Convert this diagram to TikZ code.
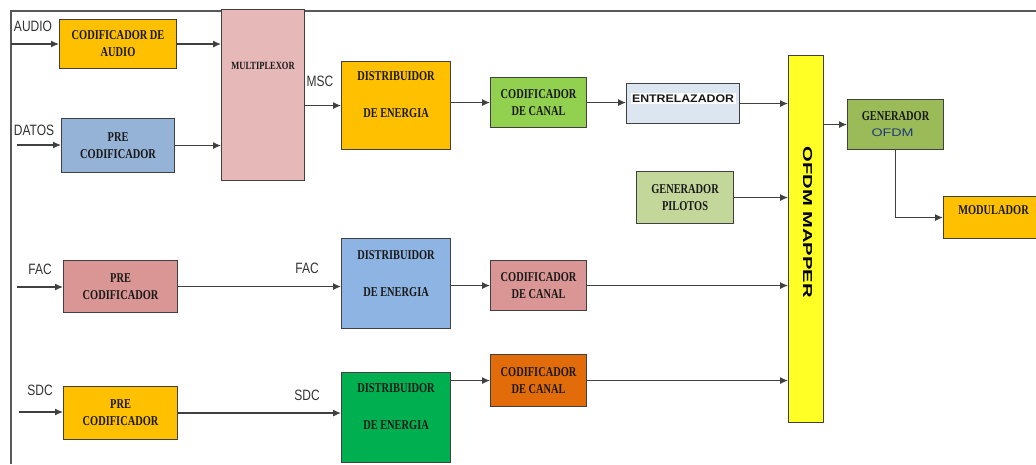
\documentclass[tikz,border=0pt]{standalone}
\usepackage{fontspec}
\usetikzlibrary{arrows.meta,calc}
\newfontfamily\serifc[FakeStretch=0.77]{Liberation Serif}
\newcommand\boxtxt{\serifc\bfseries\fontsize{13.5}{17}\selectfont}
\newcommand\muxtxt{\serifc\bfseries\fontsize{11}{13}\selectfont}
\newfontfamily\labsans[FakeStretch=0.8]{Liberation Sans}
\newcommand\labtxt{\labsans\fontsize{15}{17}\selectfont}
\newfontfamily\mapfont[FakeStretch=1.55]{Liberation Sans}
\newfontfamily\entfont[FakeStretch=1.12]{Liberation Sans}
\newfontfamily\ofdmfont[FakeStretch=1.3]{Liberation Sans}
\definecolor{cOr}{HTML}{FFC000}
\definecolor{cMux}{HTML}{E6B8B7}
\definecolor{cBl}{HTML}{95B3D7}
\definecolor{cGr}{HTML}{92D050}
\definecolor{cEnt}{HTML}{DCE6F1}
\definecolor{cYel}{HTML}{FFFF26}
\definecolor{cOlv}{HTML}{9BBB59}
\definecolor{cPil}{HTML}{C4D79B}
\definecolor{cPk}{HTML}{DA9694}
\definecolor{cBlb}{HTML}{8DB4E2}
\definecolor{cGrb}{HTML}{00B050}
\definecolor{cOrb}{HTML}{E26B0A}
\definecolor{lineC}{HTML}{404040}
\definecolor{ofdmblue}{HTML}{1F3A7A}
\begin{document}
\begin{tikzpicture}[x=1pt,y=-1pt,
  blk/.style={draw=lineC, line width=1.1pt, inner sep=0pt, anchor=north west,
              font=\boxtxt, align=center, text=black!90},
  txtn/.style={inner sep=0pt, font=\boxtxt, align=center, text=black!90},
  arr/.style={draw=lineC, line width=1.2pt, -{Latex[length=8pt,width=7pt]}},
  lbl/.style={font=\labtxt, text=black!80, inner sep=0pt},
  frame/.style={draw=black!65, line width=1.8pt}]
\useasboundingbox (0,0) rectangle (1036,464);
\begin{scope}
\clip (0,0) rectangle (1036,464);
\fill[white] (0,0) rectangle (1036,464);
% frame
\draw[frame] (1036,11) -- (11,11) -- (11,464);

% boxes
\node[blk, fill=cOr, minimum width=117pt, minimum height=49pt] (ca) at (59,19) {CODIFICADOR DE\\AUDIO};
\node[blk, fill=cMux, minimum width=83pt, minimum height=171pt] (mux) at (221,9) {};
\node[txtn, font=\muxtxt] (muxt) at ($(mux.north)+(0,57)$) {MULTIPLEXOR};
\node[blk, fill=cBl, minimum width=113pt, minimum height=54pt] (pd) at (61,118) {PRE\\CODIFICADOR};
\node[blk, fill=cOr, minimum width=109pt, minimum height=88pt] (d1) at (341,61) {};
\node[txtn] (d1t) at ($(d1.center)+(0,-11)$) {DISTRIBUIDOR\\[20pt]DE ENERGIA};
\node[blk, fill=cGr, minimum width=96pt, minimum height=50pt] (cc1) at (490,77) {CODIFICADOR\\DE CANAL};
\node[blk, fill=cEnt, minimum width=113pt, minimum height=40pt] (ent) at (626,83) {};
\node[fill=white, inner sep=1.5pt, font=\entfont\bfseries\fontsize{11}{13}\selectfont, text=black!90] (entt) at ($(ent.center)+(0,-5)$) {ENTRELAZADOR};
\node[blk, fill=cYel, minimum width=35pt, minimum height=367pt] (map) at (788,55) {};
\node[inner sep=0pt, rotate=-90, font=\mapfont\bfseries\fontsize{13}{15}\selectfont] (mapt) at ($(map.center)+(1.5,-17)$) {OFDM MAPPER};
\node[blk, fill=cOlv, minimum width=96pt, minimum height=50pt] (gof) at (847,99) {};
\node[txtn] (goft) at ($(gof.center)+(0,-8)$) {GENERADOR};
\node[inner sep=0pt, font=\ofdmfont\fontsize{11}{13}\selectfont, text=ofdmblue] (gofo) at ($(gof.center)+(-3,8)$) {OFDM};
\node[blk, fill=cOr, minimum width=100pt, minimum height=42pt] (mod) at (943,196) {};
\node[txtn] (modt) at ($(mod.center)+(0,-7)$) {MODULADOR};
\node[blk, fill=cPil, minimum width=97pt, minimum height=52pt] (pil) at (636,171) {GENERADOR\\PILOTOS};

\node[blk, fill=cPk, minimum width=114pt, minimum height=52pt] (pf) at (63,260) {PRE\\CODIFICADOR};
\node[blk, fill=cBlb, minimum width=109pt, minimum height=90pt] (d2) at (341,238) {};
\node[txtn] (d2t) at ($(d2.center)+(0,-10)$) {DISTRIBUIDOR\\[20pt]DE ENERGIA};
\node[blk, fill=cPk, minimum width=96pt, minimum height=50pt] (cc2) at (490,260) {CODIFICADOR\\DE CANAL};

\node[blk, fill=cOr, minimum width=114pt, minimum height=53pt] (ps) at (63,386) {PRE\\CODIFICADOR};
\node[blk, fill=cGrb, minimum width=109pt, minimum height=90pt] (d3) at (341,372) {};
\node[txtn] (d3t) at ($(d3.center)+(0,-11)$) {DISTRIBUIDOR\\[20pt]DE ENERGIA};
\node[blk, fill=cOrb, minimum width=96pt, minimum height=52pt] (cc3) at (490,354) {CODIFICADOR\\DE CANAL};

% labels
\node[lbl] (lA) at (33,26) {AUDIO};
\node[lbl] (lD) at (34,130) {DATOS};
\node[lbl] (lM) at (320,81) {MSC};
\node[lbl] (lF1) at (40,269) {FAC};
\node[lbl] (lF2) at (307,268) {FAC};
\node[lbl] (lS1) at (40,390) {SDC};
\node[lbl] (lS2) at (307,395) {SDC};

% input coordinates
\coordinate (inA) at (11,44);
\coordinate (inD) at (17,145);
\coordinate (inF) at (17,287);
\coordinate (inS) at (19,412);

% connectors
\draw[arr] (inA) -- (inA -| ca.west);
\draw[arr] (ca.east) -- (ca.east -| mux.west);
\draw[arr] (inD) -- (inD -| pd.west);
\draw[arr] (pd.east) -- (pd.east -| mux.west);
\draw[arr] (d1.west -| mux.east) -- (d1.west);
\draw[arr] (cc1.west -| d1.east) -- (cc1.west);
\draw[arr] (cc1.east) -- (cc1.east -| ent.west);
\draw[arr] (ent.east) -- (ent.east -| map.west);
\draw[arr] (gof.west -| map.east) -- (gof.west);
\draw[arr] (gof.south) |- (mod.west);
\draw[arr] (pil.east) -- (pil.east -| map.west);

\draw[arr] (inF) -- (inF -| pf.west);
\draw[arr] (pf.east) -- (pf.east -| d2.west);
\draw[arr] (cc2.west -| d2.east) -- (cc2.west);
\draw[arr] (cc2.east) -- (cc2.east -| map.west);

\draw[arr] (inS) -- (inS -| ps.west);
\draw[arr] (ps.east) -- (ps.east -| d3.west);
\draw[arr] (cc3.west -| d3.east) -- (cc3.west);
\draw[arr] (cc3.east) -- (cc3.east -| map.west);
\end{scope}
\end{tikzpicture}
\end{document}
